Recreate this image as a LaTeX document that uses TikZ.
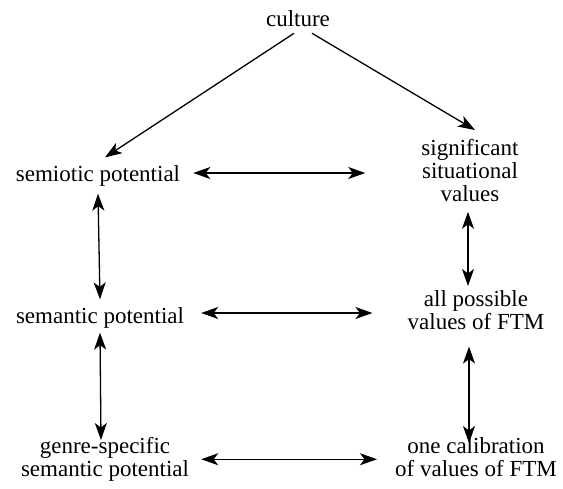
\documentclass[tikz,border=0pt]{standalone}
\usepackage{fontspec}
\setmainfont{Liberation Serif}
\usetikzlibrary{arrows.meta}
\begin{document}
\begin{tikzpicture}[x=1pt,y=-1pt,
  every node/.style={inner sep=0pt, font=\fontsize{23}{23}\selectfont},
  label/.style={align=center},
  tip/.style={Stealth[length=17pt,width=12pt,inset=4.5pt]},
  arr/.style={line width=1.3pt, -{Stealth[length=17pt,width=12pt,inset=4.5pt]}},
  darr/.style={line width=1.3pt, {Stealth[length=17pt,width=12pt,inset=4.5pt]}-{Stealth[length=17pt,width=12pt,inset=4.5pt]}}]
\useasboundingbox (0,0) rectangle (563,488);

% text nodes
\node (culture) at (298,19) {culture};
\node (semio) at (98,176) {semiotic potential};
\node[label, anchor=north] (sig) at (470,139) {significant\\situational\\values};
\node (seman) at (100,318) {semantic potential};
\node[label, anchor=north] (allp) at (476,290) {all possible\\values of FTM};
\node[label, anchor=north] (genre) at (105,437) {genre-specific\\semantic potential};
\node[label, anchor=north] (onec) at (476,437) {one calibration\\of values of FTM};

% culture branches
\draw[arr] ([xshift=-4pt,yshift=-6pt]culture.south) -- ([xshift=7pt,yshift=8pt]semio.north);
\draw[arr] ([xshift=14pt,yshift=-6pt]culture.south) -- ([xshift=5pt,yshift=9pt]sig.north);

% horizontal links
\draw[darr] ([xshift=13pt,yshift=3pt]semio.east) -- ([xshift=-56pt,yshift=3pt]semio.east -| sig.west);
\draw[darr] ([xshift=17pt,yshift=5pt]seman.east) -- ([xshift=-35pt,yshift=5pt]seman.east -| allp.west);
\draw[darr] ([xshift=12pt]genre.east) -- ([xshift=-18pt]genre.east -| onec.west);

% vertical links
\draw[darr] ([yshift=-7pt]semio.south) -- ([yshift=8pt]seman.north);
\draw[darr] ([yshift=-4pt]seman.south) -- ([xshift=-4pt,yshift=-3pt]genre.north);
\draw[darr] ([xshift=-2pt,yshift=-10pt]sig.south) -- ([xshift=-8pt,yshift=4pt]allp.north);
\draw[darr] ([xshift=-7pt,yshift=-17pt]allp.south) -- ([xshift=-7pt,yshift=-6pt]onec.north);
\end{tikzpicture}
\end{document}
